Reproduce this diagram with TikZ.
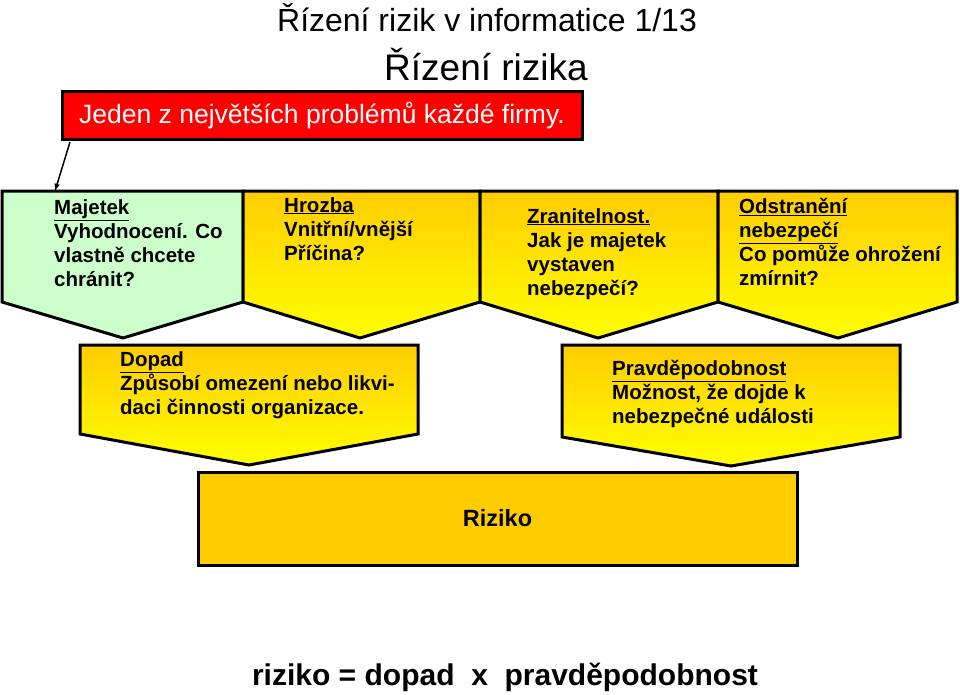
\documentclass[tikz,border=0pt]{standalone}
\usepackage{fontspec}
\setmainfont{Liberation Sans}
\begin{document}
\begin{tikzpicture}[x=1pt,y=-1pt]
\definecolor{gold}{RGB}{255,204,0}
\tikzset{chev/.style={draw=black,line width=3pt,line join=miter,top color=gold,bottom color=yellow},
  gchev/.style={draw=black,line width=3pt,fill={rgb,255:red,204;green,255;blue,204}},
  txt/.style={anchor=north west,align=left,font=\bfseries\fontsize{20.5}{24}\selectfont,inner sep=0pt}}
\useasboundingbox (0,0) rectangle (960,695);
\node (t1) at (487,18) {\fontsize{32}{35}\selectfont Řízení rizik v informatice 1/13};
\node (t2) at (486,65) {\fontsize{37}{40}\selectfont Řízení rizika};
\node[draw=black,line width=3pt,fill=red,minimum width=520pt,minimum height=48pt,inner sep=0pt] (red) at (322,116) {};
\node[text=white] at (red) {\fontsize{26.5}{30}\selectfont Jeden z největších problémů každé firmy.};
% top chevrons
\path[gchev] (2,191) -- (243,191) -- (243,302) -- (123,338) -- (2,302) -- cycle;
\path[chev] (243,191) -- (480,191) -- (480,302) -- (360,338) -- (243,302) -- cycle;
\path[chev] (480,191) -- (718,191) -- (718,302) -- (598,338) -- (480,302) -- cycle;
\path[chev] (718,191) -- (957,191) -- (957,302) -- (838,338) -- (718,302) -- cycle;
\coordinate (a1) at (70,142);
\coordinate (a2) at (55,191);
\draw[line width=1.5pt,-latex] (a1) -- (a2);
\node[txt] (m) at (54,199) {\underline{Majetek}\\Vyhodnocení. Co\\vlastně chcete\\chránit?};
\node[txt] (h) at (284,197) {\underline{Hrozba}\\Vnitřní/vnější\\Příčina?};
\node[txt] (z) at (527,208) {\underline{Zranitelnost.}\\Jak je majetek\\vystaven\\nebezpečí?};
\node[txt] (o) at (739,198) {\underline{Odstranění}\\\underline{nebezpečí}\\Co pomůže ohrožení\\zmírnit?};
% middle
\path[chev] (80,345) -- (418,345) -- (418,434) -- (249,465) -- (80,434) -- cycle;
\path[chev] (562,345) -- (900,345) -- (900,437) -- (731,466) -- (562,437) -- cycle;
\node[txt] (d) at (120,351) {\underline{Dopad}\\Způsobí omezení nebo likvi-\\daci činnosti organizace.};
\node[txt] (p) at (612,360) {\underline{Pravděpodobnost}\\Možnost, že dojde k\\nebezpečné události};
% riziko
\node[draw=black,line width=3pt,fill=gold,minimum width=599pt,minimum height=93pt,inner sep=0pt] (r) at (497.5,518.5) {};
\node at (r) {\bfseries\fontsize{23.5}{26}\selectfont Riziko};
\node (f) at (505,677) {\bfseries\fontsize{30}{33}\selectfont riziko = dopad\ \ x\ \ pravděpodobnost};
\end{tikzpicture}
\end{document}
